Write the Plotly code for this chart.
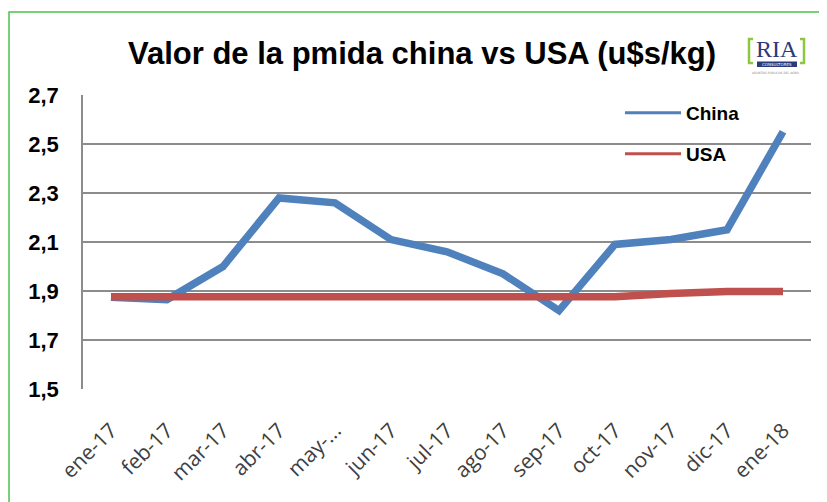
import plotly.graph_objects as go

months = ["ene-17", "feb-17", "mar-17", "abr-17", "may-...", "jun-17", "jul-17",
          "ago-17", "sep-17", "oct-17", "nov-17", "dic-17", "ene-18"]
china = [1.875, 1.865, 2.00, 2.28, 2.26, 2.11, 2.06, 1.97, 1.82, 2.09, 2.11, 2.15, 2.55]
usa = [1.877, 1.877, 1.877, 1.877, 1.877, 1.877, 1.877, 1.877, 1.877, 1.877, 1.89, 1.898, 1.898]
y_ticks = [1.5, 1.7, 1.9, 2.1, 2.3, 2.5, 2.7]

BLUE = "#4F81BD"
RED = "#C0504D"
W, H = 827, 502
L, R, T, B = 75, 24, 87, 121
PW, PH = W - L - R, H - T - B


# reference-pixel -> paper coordinate helpers (page has an 8px body offset)
def px(x):
    return (x - 8 - L) / PW


def py(y):
    return 1 - (y - 8 - T) / PH


fig = go.Figure()
fig.add_trace(go.Scatter(x=months, y=china, name="China", mode="lines",
                         line=dict(color=BLUE, width=7.5), showlegend=False))
fig.add_trace(go.Scatter(x=months, y=usa, name="USA", mode="lines",
                         line=dict(color=RED, width=7.5), showlegend=False))
# legend entries (thin lines, as in the reference legend)
fig.add_trace(go.Scatter(x=[None], y=[None], name="China", mode="lines",
                         line=dict(color=BLUE, width=3), legend="legend"))
fig.add_trace(go.Scatter(x=[None], y=[None], name="USA", mode="lines",
                         line=dict(color=RED, width=3), legend="legend2"))

legend_font = dict(family="Liberation Sans, Arial, sans-serif", size=19,
                   color="black", weight="bold")
fig.update_layout(
    width=W, height=H,
    margin=dict(l=L, r=R, t=T, b=B),
    paper_bgcolor="white", plot_bgcolor="white",
    separators=",.",
    showlegend=True,
    legend=dict(x=px(620), y=py(113), xanchor="left", yanchor="middle",
                bgcolor="rgba(0,0,0,0)", font=legend_font, itemwidth=56),
    legend2=dict(x=px(620), y=py(154), xanchor="left", yanchor="middle",
                 bgcolor="rgba(0,0,0,0)", font=legend_font, itemwidth=56),
    xaxis=dict(type="category", range=[-0.5, 12.5], showgrid=False,
               showline=False, ticks="", tickangle=-45, ticklabelstandoff=24,
               tickfont=dict(family="Open Sans, DejaVu Sans, sans-serif",
                             size=21, color="#404040")),
    yaxis=dict(range=[1.5, 2.7], tickvals=y_ticks, tickformat=".1f",
               showgrid=True, gridcolor="#8C8C8C", gridwidth=1.5,
               showline=True, linecolor="#8C8C8C", linewidth=1.5,
               zeroline=False, ticks="", ticklabelstandoff=18,
               tickfont=dict(family="Liberation Sans, Arial, sans-serif",
                             size=22, color="black", weight="bold")),
)

# title
fig.add_annotation(x=px(422), y=py(53), xref="paper", yref="paper", showarrow=False,
                   xanchor="center", yanchor="middle",
                   text="<b>Valor de la pmida china vs USA (u$s/kg)</b>",
                   font=dict(family="Liberation Sans, Arial, sans-serif", size=31, color="black"))

# green chart border
fig.add_shape(type="rect", xref="paper", yref="paper",
              x0=px(9), x1=px(860), y0=py(540), y1=py(12),
              line=dict(color="#4CC24C", width=1.5), fillcolor="rgba(0,0,0,0)", layer="below")

# RIA logo (approximation)
GREEN = "#8DC63F"
NAVY = "#2B3A7A"
fig.add_shape(type="path", xref="paper", yref="paper",
              path=f"M {px(753)},{py(39)} L {px(749)},{py(39)} L {px(749)},{py(63)} L {px(753)},{py(63)}",
              line=dict(color=GREEN, width=2.5))
fig.add_shape(type="path", xref="paper", yref="paper",
              path=f"M {px(800)},{py(39)} L {px(804)},{py(39)} L {px(804)},{py(63)} L {px(800)},{py(63)}",
              line=dict(color=GREEN, width=2.5))
fig.add_shape(type="rect", xref="paper", yref="paper",
              x0=px(757), x1=px(797), y0=py(67), y1=py(61.5),
              fillcolor=NAVY, line=dict(width=0))
fig.add_annotation(x=px(776.5), y=py(49), xref="paper", yref="paper", showarrow=False,
                   xanchor="center", yanchor="middle", borderpad=0,
                   text="RIA", font=dict(family="Liberation Serif, serif", size=24, color=NAVY))
fig.add_annotation(x=px(777), y=py(64.5), xref="paper", yref="paper", showarrow=False,
                   xanchor="center", yanchor="middle", text="CONSULTORES", borderpad=0,
                   font=dict(family="DejaVu Sans", size=4, color="white"))
fig.add_annotation(x=px(776), y=py(72.5), xref="paper", yref="paper", showarrow=False,
                   xanchor="center", yanchor="middle", text="ASUNTOS PÚBLICOS DEL AGRO", borderpad=0,
                   font=dict(family="DejaVu Sans", size=3, color="#888888"))

fig.write_html("out.html")
